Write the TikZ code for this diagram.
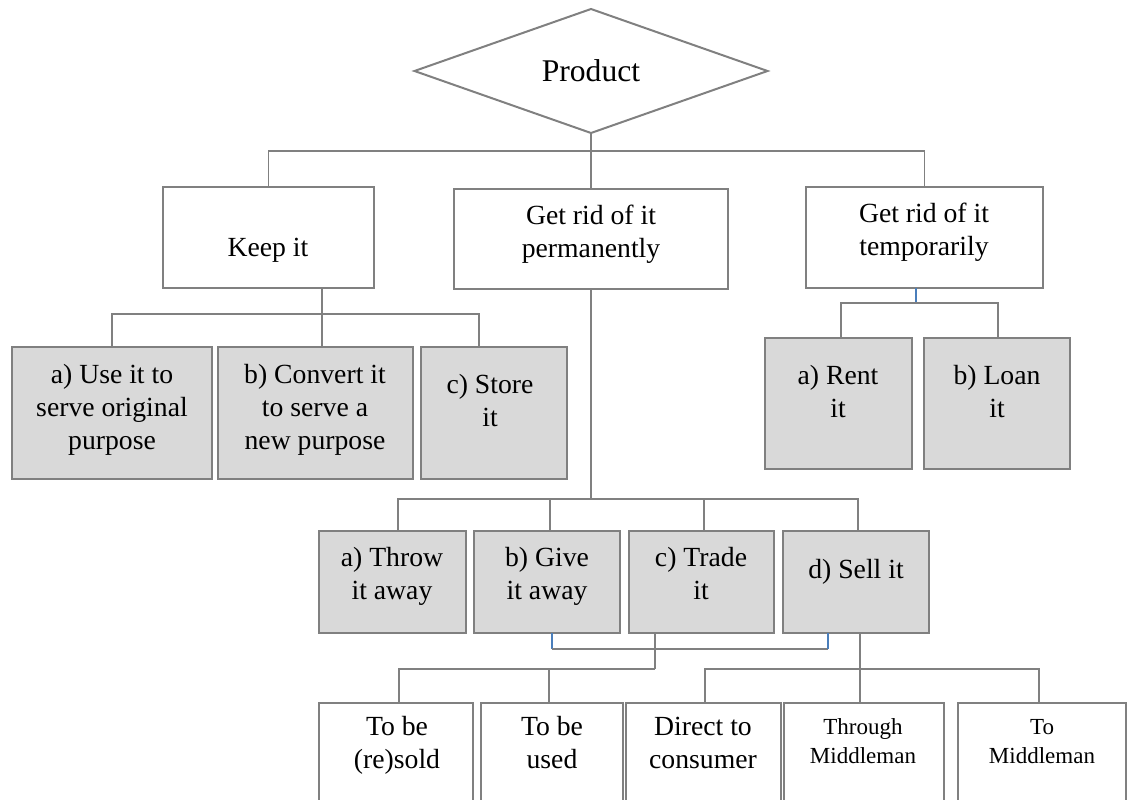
\documentclass[tikz,border=0pt]{standalone}
\usepackage{fontspec}
\setmainfont{Liberation Serif}
\usetikzlibrary{shapes.geometric}
\definecolor{edge}{HTML}{808080}
\definecolor{shade}{HTML}{D9D9D9}
\definecolor{tie}{HTML}{4A7EBB}
\begin{document}
\begin{tikzpicture}[x=1pt,y=-1pt,
  box/.style={draw=edge, line width=2.2pt, rectangle, inner sep=0pt, outer sep=0pt},
  optbox/.style={box, fill=shade},
  % labels are placed by the baseline of their last line
  lbl/.style={font=\fontsize{27.7}{33}\selectfont, align=center, anchor=base, inner sep=0pt},
  smalllbl/.style={lbl, font=\fontsize{23}{29}\selectfont},
  conn/.style={draw=edge, line width=1.6pt},
  tieline/.style={draw=tie, line width=1.6pt}]
\useasboundingbox (0,0) rectangle (1130,800);

% root
\node[diamond, draw=edge, line width=2pt, inner sep=0pt, outer sep=0pt,
      aspect=2.85, minimum width=353pt, minimum height=124pt,
      font=\fontsize{31.6}{36}\selectfont] (prod) at (591,71) {Product};

% first level
\node[box, minimum width=211pt, minimum height=101pt] (keep) at (268.5,237.5) {};
\node[box, minimum width=274pt, minimum height=100pt] (perm) at (591,239) {};
\node[box, minimum width=237pt, minimum height=101pt] (temp) at (924.5,237.5) {};
\node[lbl] (keep-l) at (268,256) {Keep it};
\node[lbl] (perm-l) at (591,257) {Get rid of it\\permanently};
\node[lbl] (temp-l) at (924,255) {Get rid of it\\temporarily};

% keep it options
\node[optbox, minimum width=200pt, minimum height=132pt] (use) at (112,413) {};
\node[optbox, minimum width=195pt, minimum height=132pt] (conv) at (315.5,413) {};
\node[optbox, minimum width=146pt, minimum height=132pt] (store) at (494,413) {};
\node[lbl] (use-l) at (112,449) {a) Use it to\\serve original\\purpose};
\node[lbl] (conv-l) at (315,449) {b) Convert it\\to serve a\\new purpose};
\node[lbl] (store-l) at (490,426) {c) Store\\it};

% temporary options
\node[optbox, minimum width=147pt, minimum height=131pt] (rent) at (838.5,403.5) {};
\node[optbox, minimum width=146pt, minimum height=131pt] (loan) at (997,403.5) {};
\node[lbl] (rent-l) at (838,417) {a) Rent\\it};
\node[lbl] (loan-l) at (997,417) {b) Loan\\it};

% permanent options
\node[optbox, minimum width=147pt, minimum height=102pt] (throw) at (392.5,582) {};
\node[optbox, minimum width=146pt, minimum height=102pt] (give) at (547,582) {};
\node[optbox, minimum width=145pt, minimum height=102pt] (trade) at (701.5,582) {};
\node[optbox, minimum width=146pt, minimum height=102pt] (sell) at (856,582) {};
\node[lbl] (throw-l) at (392,599) {a) Throw\\it away};
\node[lbl] (give-l) at (547,599) {b) Give\\it away};
\node[lbl] (trade-l) at (701,599) {c) Trade\\it};
\node[lbl] (sell-l) at (856,578) {d) Sell it};

% outlets (boxes run past the lower edge)
\begin{scope}
\clip (0,0) rectangle (1130,800);
\node[box, minimum width=154pt, minimum height=112pt] (resold) at (396,759) {};
\node[box, minimum width=142pt, minimum height=112pt] (used) at (552,759) {};
\node[box, minimum width=155pt, minimum height=112pt] (direct) at (703.5,759) {};
\node[box, minimum width=160pt, minimum height=112pt] (through) at (864,759) {};
\node[box, minimum width=168pt, minimum height=112pt] (tomid) at (1042,759) {};
\end{scope}
\node[lbl] (resold-l) at (397,768) {To be\\(re)sold};
\node[lbl] (used-l) at (552,768) {To be\\used};
\node[lbl] (direct-l) at (703,768) {Direct to\\consumer};
\node[smalllbl] (through-l) at (863,763) {Through\\Middleman};
\node[smalllbl] (tomid-l) at (1042,763) {To\\Middleman};

% root to first level
\coordinate (j0) at (prod.south |- 0,151);
\draw[conn] (prod.south) -- (j0) -- (perm.north);
\draw[conn] (keep.north) |- (temp.north |- j0) -- (temp.north);

% keep it
\coordinate (k) at (322,314);
\draw[conn] (keep.south -| k) -- (conv.north -| k);
\draw[conn] (use.north) |- (k) -| ([xshift=-15pt]store.north);

% temporarily
\coordinate (t) at (916,303);
\draw[tieline] (temp.south -| t) -- (t);
\draw[conn] ([xshift=2.5pt]rent.north) |- (t) -| ([xshift=1pt]loan.north);

% permanently
\coordinate (p) at (591,499);
\draw[conn] (perm.south) -- (perm.south |- p);
\draw[conn] ([xshift=5.5pt]throw.north) |- (p) -| ([xshift=2pt]sell.north);
\draw[conn] ([xshift=3pt]give.north) -- ([xshift=3pt]give.north |- p);
\draw[conn] ([xshift=2.5pt]trade.north) -- ([xshift=2.5pt]trade.north |- p);

% give it away joined to sell it
\coordinate (g) at (552,649);
\coordinate (s) at (828,649);
\draw[tieline] (give.south -| g) -- (g);
\draw[conn] (g) -- (s);
\draw[tieline] (s) -- (sell.south -| s);

% trade it
\coordinate (tr) at (655,669);
\draw[conn] (trade.south -| tr) -- (tr);
\draw[conn] ([xshift=3pt]resold.north) |- (tr);
\draw[conn] ([xshift=-3pt]used.north) -- ([xshift=-3pt]used.north |- tr);

% sell it
\draw[conn] ([xshift=4pt]sell.south) -- ([xshift=-4pt]through.north);
\draw[conn] ([xshift=1.5pt]direct.north) |- ([xshift=-3pt]tomid.north |- tr) -- ([xshift=-3pt]tomid.north);
\end{tikzpicture}
\end{document}
